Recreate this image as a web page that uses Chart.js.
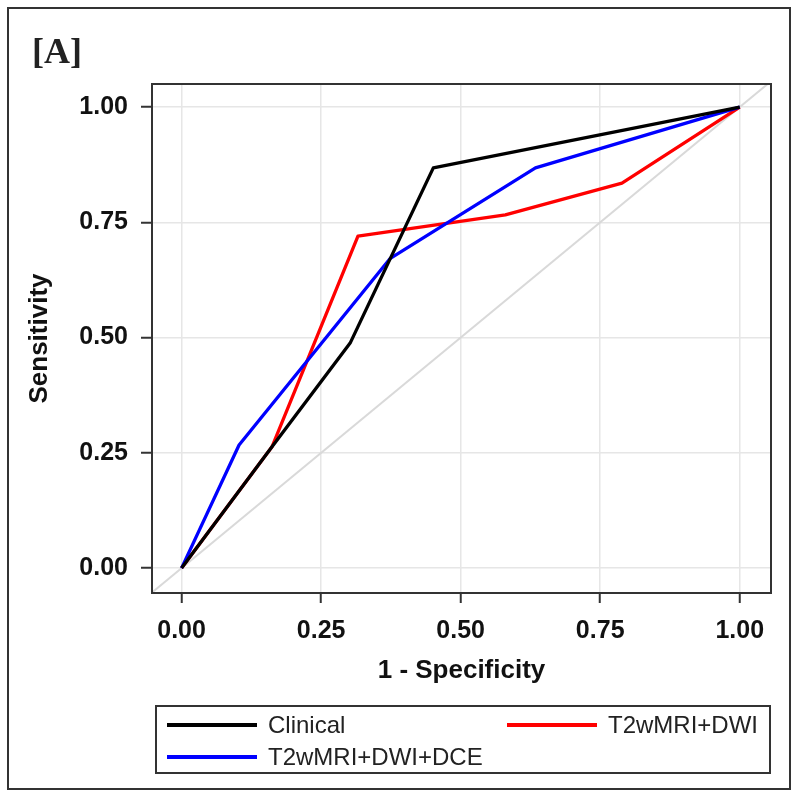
<!DOCTYPE html>
<html>
<head>
<meta charset="utf-8">
<title>ROC curves [A]</title>
<script src="https://cdn.jsdelivr.net/npm/chart.js@4/dist/chart.umd.min.js"></script>
<style>
  html, body { margin: 0; padding: 0; background: #fff; }
  #wrap { position: relative; width: 800px; height: 800px; font-family: 'Liberation Sans', Arial, sans-serif; }
  #chart { position: absolute; left: 0; top: 0; }
  #frame { position: absolute; left: 7px; top: 7px; width: 784px; height: 783px; border: 2px solid #333; box-sizing: border-box; }
  #panel { position: absolute; left: 32px; top: 33px; font: bold 36px/36px 'Liberation Serif', 'Times New Roman', serif; color: #222; }
  #legend { position: absolute; left: 155px; top: 705px; width: 616px; height: 69px; border: 2px solid #333; box-sizing: border-box; }
  .item { position: absolute; height: 32px; display: flex; align-items: center; font-size: 24px; line-height: 1; color: #222; }
  .swatch { width: 90px; height: 4px; margin-right: 11px; }
</style>
</head>
<body>
<div id="wrap">
  <canvas id="chart" width="800" height="800"></canvas>
  <div id="frame"></div>
  <div id="panel">[A]</div>
  <div id="legend"></div>
</div>
<script>
// --- data ---
const xTicks = [0, 0.25, 0.5, 0.75, 1];
const yTicks = [0, 0.25, 0.5, 0.75, 1];

const clinicalX = [0, 0.162, 0.302, 0.451, 1];
const clinicalY = [0, 0.263, 0.488, 0.868, 1];

const dwiX = [0, 0.162, 0.316, 0.580, 0.789, 1];
const dwiY = [0, 0.263, 0.720, 0.766, 0.835, 1];

const dceX = [0, 0.103, 0.374, 0.634, 1];
const dceY = [0, 0.267, 0.672, 0.868, 1];

// chance line, corner to corner of the plot box
const refX = [-0.054, 1.056];
const refY = [-0.054, 1.056];

const names = ['Clinical', 'T2wMRI+DWI', 'T2wMRI+DWI+DCE'];
const colors = ['#000000', '#ff0000', '#0000ff'];

const pts = (xs, ys) => xs.map((x, i) => ({ x: x, y: ys[i] }));

const tickFont = { family: 'Liberation Sans', size: 25, weight: 'bold' };
const titleFont = { family: 'Liberation Sans', size: 26, weight: 'bold' };

// plot box outline
const boxPlugin = {
    id: 'box',
    afterDatasetsDraw(chart) {
        const a = chart.chartArea;
        const ctx = chart.ctx;
        ctx.save();
        ctx.strokeStyle = '#333';
        ctx.lineWidth = 2;
        ctx.strokeRect(a.left, a.top, a.right - a.left, a.bottom - a.top);
        ctx.restore();
    }
};

new Chart(document.getElementById('chart'), {
    type: 'line',
    data: {
        datasets: [
            { label: names[0], data: pts(clinicalX, clinicalY), borderColor: colors[0], order: 0 },
            { label: names[1], data: pts(dwiX, dwiY), borderColor: colors[1], order: 2 },
            { label: names[2], data: pts(dceX, dceY), borderColor: colors[2], order: 1 },
            { label: 'ref', data: pts(refX, refY), borderColor: '#d9d9d9', borderWidth: 2, order: 3 }
        ]
    },
    options: {
        responsive: false,
        animation: false,
        layout: { padding: { left: 0, top: 84, right: 29, bottom: 0 } },
        plugins: { legend: { display: false }, tooltip: { enabled: false } },
        elements: {
            point: { radius: 0 },
            line: { borderWidth: 3.3, tension: 0, borderJoinStyle: 'round' }
        },
        scales: {
            x: {
                type: 'linear', min: -0.053, max: 1.056,
                afterBuildTicks: s => { s.ticks = xTicks.map(v => ({ value: v })); },
                afterFit: s => { s.height = 207; },
                grid: { color: '#e6e6e6', lineWidth: 1.5, tickColor: '#333', tickWidth: 2, tickLength: 10 },
                border: { display: false },
                ticks: { padding: 13, color: '#111', font: tickFont, autoSkip: false, maxRotation: 0,
                         callback: v => Number(v).toFixed(2) },
                title: { display: true, text: '1 - Specificity', color: '#111', font: titleFont,
                         padding: { top: 0, bottom: 114 } }
            },
            y: {
                type: 'linear', min: -0.054, max: 1.05,
                afterBuildTicks: s => { s.ticks = yTicks.map(v => ({ value: v })); },
                afterFit: s => { s.width = 152; },
                grid: { color: '#e6e6e6', lineWidth: 1.5, tickColor: '#333', tickWidth: 2, tickLength: 11 },
                border: { display: false },
                ticks: { padding: 13, color: '#111', font: tickFont,
                         callback: v => Number(v).toFixed(2) },
                title: { display: true, text: 'Sensitivity', color: '#111', font: titleFont,
                         padding: { top: 24, bottom: 0 } }
            }
        }
    },
    plugins: [boxPlugin]
});

// legend: two columns, row by row like the original
const legend = document.getElementById('legend');
const slots = [
    { left: 10, top: 2 },
    { left: 350, top: 2 },
    { left: 10, top: 34 }
];
names.forEach((n, i) => {
    const item = document.createElement('div');
    item.className = 'item';
    item.style.left = slots[i].left + 'px';
    item.style.top = slots[i].top + 'px';
    const sw = document.createElement('span');
    sw.className = 'swatch';
    sw.style.background = colors[i];
    const tx = document.createElement('span');
    tx.textContent = n;
    item.appendChild(sw);
    item.appendChild(tx);
    legend.appendChild(item);
});
</script>
</body>
</html>
